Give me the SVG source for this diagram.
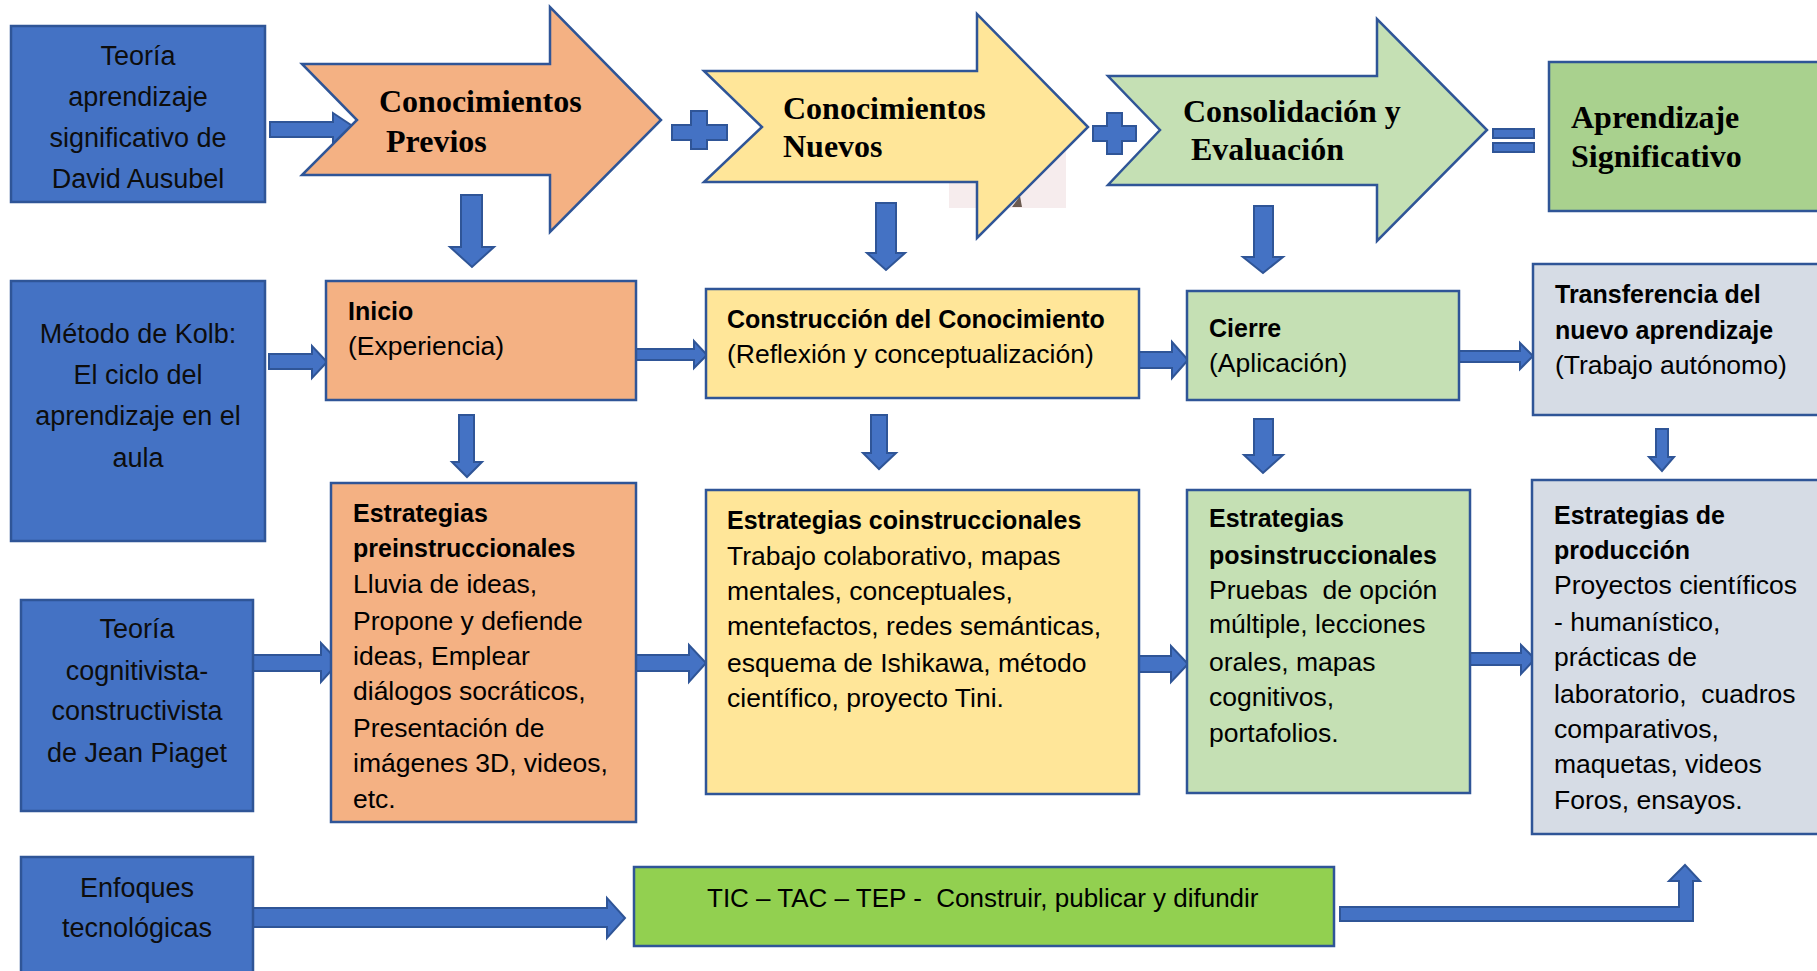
<svg xmlns="http://www.w3.org/2000/svg" width="1817" height="971" viewBox="0 0 1817 971">
<style>
.box{stroke:#2f5597;stroke-width:2.5}
.blue{fill:#4472c4}
.orange{fill:#f4b183}
.yellow{fill:#ffe699}
.green{fill:#c5e0b4}
.lgreen{fill:#a9d18e}
.gray{fill:#d6dce5}
.bgreen{fill:#92d050}
.conn{fill:#4472c4;stroke:#2f5597;stroke-width:2;stroke-linejoin:miter}
.big{stroke:#2f5597;stroke-width:2.5;stroke-linejoin:miter}
.t{font-family:"Liberation Sans",Arial,sans-serif;font-size:26.5px;fill:#000}
.b{font-family:"Liberation Sans",Arial,sans-serif;font-size:25px;font-weight:bold;fill:#000}
.c{font-family:"Liberation Sans",Arial,sans-serif;font-size:27px;fill:#0d0d0d;text-anchor:middle}
.s{font-family:"Liberation Serif","Times New Roman",serif;font-size:32px;font-weight:bold;fill:#000}
</style>
<rect x="949" y="150" width="117" height="58" fill="#f6eced"/>
<path d="M1012,207 L1020,196 L1022,207 Z" fill="#6b5a50"/>
<g id="connectors">
<polygon class="conn" points="270,122 333,122 333,113 357,129 333,145 333,137 270,137"/>
<polygon class="conn" points="269,354 312,354 312,346 327,362 312,378 312,369 269,369"/>
<polygon class="conn" points="636,349 694,349 694,341 707,355 694,368 694,360 636,360"/>
<polygon class="conn" points="1139,352 1172,352 1172,342 1188,360 1172,378 1172,368 1139,368"/>
<polygon class="conn" points="1459,351 1520,351 1520,343 1533,356 1520,369 1520,362 1459,362"/>
<polygon class="conn" points="252,655 321,655 321,643 339,662 321,682 321,671 252,671"/>
<polygon class="conn" points="636,655 689,655 689,645 706,663 689,682 689,671 636,671"/>
<polygon class="conn" points="1139,656 1171,656 1171,646 1188,664 1171,682 1171,672 1139,672"/>
<polygon class="conn" points="1470,653 1521,653 1521,645 1535,659 1521,674 1521,665 1470,665"/>
<polygon class="conn" points="252,908 607,908 607,898 625,918 607,938 607,927 252,927"/>
<polygon class="conn" points="1340,907 1679,907 1679,881 1669,881 1685,865 1700,881 1693,881 1693,921 1340,921"/>
<polygon class="conn" points="461,195 482,195 482,247 494,247 472,267 450,247 461,247"/>
<polygon class="conn" points="876,203 896,203 896,253 905,253 886,270 867,253 876,253"/>
<polygon class="conn" points="1254,206 1273,206 1273,257 1283,257 1263,273 1243,257 1254,257"/>
<polygon class="conn" points="459,415 474,415 474,462 482,462 467,477 452,462 459,462"/>
<polygon class="conn" points="871,415 887,415 887,453 896,453 879,469 863,453 871,453"/>
<polygon class="conn" points="1254,419 1273,419 1273,455 1283,455 1263,473 1244,455 1254,455"/>
<polygon class="conn" points="1656,429 1668,429 1668,457 1674,457 1662,471 1649,457 1656,457"/>
<polygon class="conn" points="691,111 707,111 707,125 727,125 727,140 707,140 707,149 691,149 691,140 672,140 672,125 691,125"/>
<polygon class="conn" points="1107,113 1122,113 1122,126 1136,126 1136,141 1122,141 1122,154 1107,154 1107,141 1093,141 1093,126 1107,126"/>
<rect class="conn" x="1493" y="129" width="41" height="9"/>
<rect class="conn" x="1493" y="143" width="41" height="9"/>
</g>
<g id="teoria-ausubel">
<rect class="box blue" x="11" y="26" width="254" height="176"/>
<text class="c" x="138" y="65">Teoría</text>
<text class="c" x="138" y="106">aprendizaje</text>
<text class="c" x="138" y="147">significativo de</text>
<text class="c" x="138" y="188">David Ausubel</text>
</g>
<g id="conocimientos-previos">
<polygon class="big orange" points="302,64 550,64 550,7 661,120 550,232 550,175 302,175 357,120"/>
<text class="s" x="379" y="112">Conocimientos</text>
<text class="s" x="386" y="152">Previos</text>
</g>
<g id="conocimientos-nuevos">
<polygon class="big yellow" points="704,71 977,71 977,14 1088,127 977,238 977,182 704,182 762,127"/>
<text class="s" x="783" y="119">Conocimientos</text>
<text class="s" x="783" y="157">Nuevos</text>
</g>
<g id="consolidacion">
<polygon class="big green" points="1108,76 1377,76 1377,19 1487,130 1377,241 1377,185 1108,185 1160,130"/>
<text class="s" x="1183" y="122">Consolidación y</text>
<text class="s" x="1191" y="160">Evaluación</text>
</g>
<g id="aprendizaje-significativo">
<rect class="box lgreen" x="1549" y="62" width="290" height="149"/>
<text class="s" x="1571" y="128">Aprendizaje</text>
<text class="s" x="1571" y="167">Significativo</text>
</g>
<g id="kolb">
<rect class="box blue" x="11" y="281" width="254" height="260"/>
<text class="c" x="138" y="343">Método de Kolb:</text>
<text class="c" x="138" y="384">El ciclo del</text>
<text class="c" x="138" y="425">aprendizaje en el</text>
<text class="c" x="138" y="467">aula</text>
</g>
<g id="inicio">
<rect class="box orange" x="326" y="281" width="310" height="119"/>
<text class="b" x="348" y="320">Inicio</text>
<text class="t" x="348" y="355">(Experiencia)</text>
</g>
<g id="construccion">
<rect class="box yellow" x="706" y="289" width="433" height="109"/>
<text class="b" x="727" y="328">Construcción del Conocimiento</text>
<text class="t" x="727" y="363">(Reflexión y conceptualización)</text>
</g>
<g id="cierre">
<rect class="box green" x="1187" y="291" width="272" height="109"/>
<text class="b" x="1209" y="337">Cierre</text>
<text class="t" x="1209" y="372">(Aplicación)</text>
</g>
<g id="transferencia">
<rect class="box gray" x="1533" y="264" width="300" height="151"/>
<text class="b" x="1555" y="303">Transferencia del</text>
<text class="b" x="1555" y="339">nuevo aprendizaje</text>
<text class="t" x="1555" y="374">(Trabajo autónomo)</text>
</g>
<g id="piaget">
<rect class="box blue" x="21" y="600" width="232" height="211"/>
<text class="c" x="137" y="638">Teoría</text>
<text class="c" x="137" y="680">cognitivista-</text>
<text class="c" x="137" y="720">constructivista</text>
<text class="c" x="137" y="762">de Jean Piaget</text>
</g>
<g id="preinstruccionales">
<rect class="box orange" x="331" y="483" width="305" height="339"/>
<text class="b" x="353" y="522">Estrategias</text>
<text class="b" x="353" y="557">preinstruccionales</text>
<text class="t" x="353" y="593">Lluvia de ideas,</text>
<text class="t" x="353" y="630">Propone y defiende</text>
<text class="t" x="353" y="665">ideas, Emplear</text>
<text class="t" x="353" y="700">diálogos socráticos,</text>
<text class="t" x="353" y="737">Presentación de</text>
<text class="t" x="353" y="772">imágenes 3D, videos,</text>
<text class="t" x="353" y="808">etc.</text>
</g>
<g id="coinstruccionales">
<rect class="box yellow" x="706" y="490" width="433" height="304"/>
<text class="b" x="727" y="529">Estrategias coinstruccionales</text>
<text class="t" x="727" y="565">Trabajo colaborativo, mapas</text>
<text class="t" x="727" y="600">mentales, conceptuales,</text>
<text class="t" x="727" y="635">mentefactos, redes semánticas,</text>
<text class="t" x="727" y="672">esquema de Ishikawa, método</text>
<text class="t" x="727" y="707">científico, proyecto Tini.</text>
</g>
<g id="posinstruccionales">
<rect class="box green" x="1187" y="490" width="283" height="303"/>
<text class="b" x="1209" y="527">Estrategias</text>
<text class="b" x="1209" y="564">posinstruccionales</text>
<text class="t" x="1209" y="599" xml:space="preserve">Pruebas  de opción</text>
<text class="t" x="1209" y="633">múltiple, lecciones</text>
<text class="t" x="1209" y="671">orales, mapas</text>
<text class="t" x="1209" y="706">cognitivos,</text>
<text class="t" x="1209" y="742">portafolios.</text>
</g>
<g id="produccion">
<rect class="box gray" x="1532" y="480" width="300" height="354"/>
<text class="b" x="1554" y="524">Estrategias de</text>
<text class="b" x="1554" y="559">producción</text>
<text class="t" x="1554" y="594">Proyectos científicos</text>
<text class="t" x="1554" y="631">- humanístico,</text>
<text class="t" x="1554" y="666">prácticas de</text>
<text class="t" x="1554" y="703" xml:space="preserve">laboratorio,  cuadros</text>
<text class="t" x="1554" y="738">comparativos,</text>
<text class="t" x="1554" y="773">maquetas, videos</text>
<text class="t" x="1554" y="809">Foros, ensayos.</text>
</g>
<g id="enfoques">
<rect class="box blue" x="21" y="857" width="232" height="130"/>
<text class="c" x="137" y="897">Enfoques</text>
<text class="c" x="137" y="937">tecnológicas</text>
</g>
<g id="tic">
<rect class="box bgreen" x="634" y="867" width="700" height="79"/>
<text class="t" x="707" y="907" style="font-size:26px" xml:space="preserve">TIC – TAC – TEP -  Construir, publicar y difundir</text>
</g>
</svg>
